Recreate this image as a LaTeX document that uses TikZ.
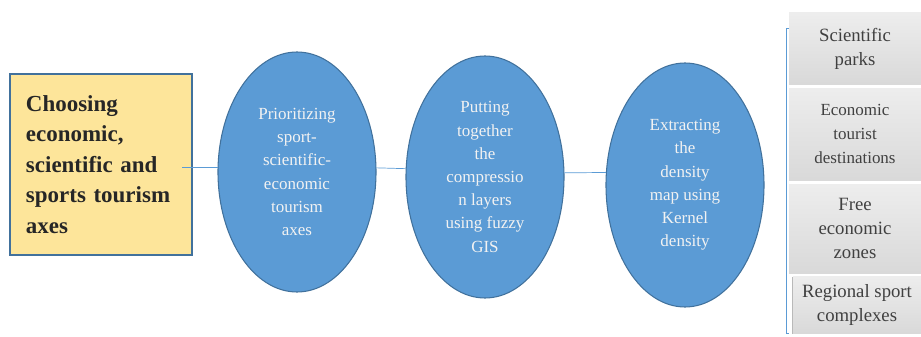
\documentclass[tikz,border=0pt]{standalone}
\usepackage{fontspec}
\setmainfont{Liberation Serif}
\usetikzlibrary{shapes.geometric,positioning}
\definecolor{azul}{HTML}{5B9BD5}
\definecolor{azulborde}{HTML}{41719C}
\definecolor{amarillo}{HTML}{FDE59A}
\definecolor{textogris}{HTML}{404040}
\tikzset{
	eje/.style={rectangle, fill=amarillo, draw=azulborde, line width=1.2pt,
		minimum width=5.46cm, minimum height=5.43cm, text width=4.5cm,
		align=left, text=black!85, font=\bfseries\fontsize{19.6}{26}\selectfont},
	paso/.style={ellipse, fill=azul, draw=azulborde, line width=0.9pt,
		minimum width=4.74cm, minimum height=7.2cm, inner sep=0pt,
		align=center, text=white!95!black, font=\fontsize{14.5}{19.8}\selectfont},
	lado/.style={rectangle, top color=gray!14, bottom color=gray!30,
		minimum width=3.96cm, inner sep=0pt, align=center,
		text=textogris, font=\fontsize{16}{20.5}\selectfont},
	enlace/.style={draw=azul, line width=0.6pt},
	llave/.style={draw=azul, line width=0.6pt}
}
\begin{document}
\begin{tikzpicture}[x=0.03cm, y=-0.03cm, node distance=0.11cm]
	\useasboundingbox (0,0) rectangle (921,337);
	
	\node[eje] (choose) at (101,164.5) {Choosing\\ economic,\\ scientific and\\ sports tourism\\ axes};
	
	\node[paso] (prior) at (297,172) {Prioritizing\\ sport-\\ scientific-\\ economic\\ tourism\\ axes};
	\node[paso, minimum height=7.26cm] (layers) at (485,177) {Putting\\ together\\ the\\ compressio\\ n layers\\ using fuzzy\\ GIS};
	\node[paso, minimum height=7.32cm] (kernel) at (685,185) {Extracting\\ the\\ density\\ map using\\ Kernel\\ density};
	
	\node[lado, minimum height=2.13cm] (parks) at (855,48.5) {Scientific\\ parks};
	\node[lado, minimum height=2.76cm, below=of parks, font=\fontsize{14.5}{20.5}\selectfont] (dest) {Economic\\ tourist\\ destinations};
	\node[lado, minimum height=2.67cm, below=of dest] (zones) {Free\\ economic\\ zones};
	\node[lado, minimum height=1.71cm, minimum width=3.84cm, below=0.09cm of zones.south east, anchor=north east] (sport) {Regional sport\\ complexes};
	\draw[gray!55, line width=0.8pt] (sport.north west) -- (sport.south west);
	
	% lineas entre pasos
	\draw[enlace, shorten >=-0.33cm] (prior.177) -- (prior.177 -| choose.east);
	\draw[enlace] (prior.3) -- (layers.174);
	\draw[enlace] (layers.3) -- (kernel.171);
	
	\coordinate (brtop) at (789,28);
	\coordinate (brbot) at (789,333);
	\draw[llave] (brtop) -- ++(-3,0) |- (brbot);
\end{tikzpicture}
\end{document}
